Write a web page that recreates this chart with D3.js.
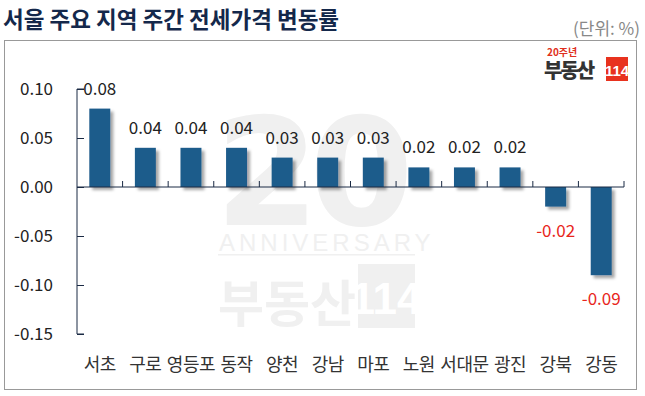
<!DOCTYPE html>
<html>
<head>
<meta charset="utf-8">
<script src="https://cdn.jsdelivr.net/npm/d3@7"></script>
<style>
  body { margin: 0; background: #fff; }
  svg { display: block; font-family: "Noto Sans CJK KR", "Noto Sans", sans-serif; }
</style>
</head>
<body>
<svg id="chart" width="645" height="396"></svg>
<script>
// 서울 주요 지역 주간 전세가격 변동률
var regions = ["서초", "구로", "영등포", "동작", "양천", "강남", "마포", "노원", "서대문", "광진", "강북", "강동"];
var changes = [0.08, 0.04, 0.04, 0.04, 0.03, 0.03, 0.03, 0.02, 0.02, 0.02, -0.02, -0.09];
var yTicks = [0.10, 0.05, 0.00, -0.05, -0.10, -0.15];

var svg = d3.select("#chart");

var margin = {left: 77, right: 21, top: 89, bottom: 62};
var W = 645, H = 396;

var x = d3.scaleBand()
    .domain(regions)
    .range([margin.left, W - margin.right])
    .paddingInner(0.54)
    .paddingOuter(0.27);

var y = d3.scaleLinear()
    .domain([-0.15, 0.10])
    .range([H - margin.bottom, margin.top]);

var defs = svg.append("defs");
var f = defs.append("filter").attr("id", "shadow").attr("x", "-30%").attr("y", "-30%").attr("width", "160%").attr("height", "160%");
f.append("feDropShadow").attr("dx", 3).attr("dy", 3).attr("stdDeviation", 1.5)
  .attr("flood-color", "#000").attr("flood-opacity", 0.35);

// title
svg.append("text")
    .attr("x", 3).attr("y", 28)
    .attr("font-size", 22.5).attr("font-weight", "bold")
    .attr("fill", "#14284b")
    .text("서울 주요 지역 주간 전세가격 변동률");

svg.append("text")
    .attr("x", 640).attr("y", 35)
    .attr("text-anchor", "end")
    .attr("font-size", 17).attr("fill", "#888")
    .text("(단위: %)");

// frame
svg.append("rect")
    .attr("x", 4.5).attr("y", 40.5)
    .attr("width", 632).attr("height", 349)
    .attr("fill", "none").attr("stroke", "#999").attr("stroke-width", 1);

// watermark
var wm = svg.append("g").attr("fill", "#f0f0f0");
wm.append("text").attr("x", 215).attr("y", 225).attr("font-size", 150)
  .attr("font-weight", "bold").attr("font-family", "DejaVu Sans").attr("letter-spacing", -10).text("20");
wm.append("text").attr("x", 219).attr("y", 251).attr("font-size", 24)
  .attr("letter-spacing", 4).attr("font-family", "Liberation Sans").text("ANNIVERSARY");
wm.append("rect").attr("x", 218).attr("y", 254).attr("width", 197).attr("height", 1.5);
wm.append("text").attr("x", 218).attr("y", 322).attr("font-size", 50).attr("font-weight", "bold").text("부동산");
wm.append("rect").attr("x", 358).attr("y", 264).attr("width", 57).attr("height", 64);
svg.append("text").attr("x", 386).attr("y", 314).attr("text-anchor", "middle").attr("font-size", 44)
  .attr("font-weight", "bold").attr("fill", "#fff").attr("font-family", "Liberation Sans Narrow, Liberation Sans").text("114");

// logo
var logo = svg.append("g");
logo.append("text").attr("x", 547).attr("y", 56).attr("font-size", 10).attr("font-weight", "bold")
  .attr("fill", "#e03020").text("20주년");
logo.append("text").attr("x", 544).attr("y", 78).attr("font-size", 20).attr("font-weight", "900")
  .attr("fill", "#333").attr("letter-spacing", -2).text("부동산");
logo.append("rect").attr("x", 606).attr("y", 57).attr("width", 22).attr("height", 24).attr("fill", "#e8321e");
logo.append("text").attr("x", 617).attr("y", 76).attr("text-anchor", "middle").attr("font-size", 15)
  .attr("font-weight", "bold").attr("fill", "#fff").attr("font-family", "Liberation Sans Narrow, Liberation Sans").text("114");

// bars
svg.append("g").selectAll("rect")
  .data(changes)
  .enter().append("rect")
    .attr("x", function(d, i) { return x(regions[i]); })
    .attr("y", function(d) { return y(Math.max(0, d)); })
    .attr("width", x.bandwidth())
    .attr("height", function(d) { return Math.abs(y(d) - y(0)); })
    .attr("fill", "#1f5b8b")
    .attr("filter", "url(#shadow)");

// y axis
var yAxis = d3.axisRight(y).tickValues(yTicks).tickSize(7).tickFormat("");
var ya = svg.append("g").attr("transform", "translate(" + margin.left + ",0)").call(yAxis);
ya.select(".domain").attr("stroke", "#1a2a44").attr("d", "M7," + y(0.10) + "H0V" + y(-0.15) + "H7");
ya.selectAll("line").attr("stroke", "#1a2a44");

svg.append("g").selectAll("text")
  .data(yTicks)
  .enter().append("text")
    .attr("x", 53).attr("y", function(d) { return y(d) + 6; })
    .attr("text-anchor", "end")
    .attr("font-size", 17).attr("fill", "#222")
    .text(function(d) { return d3.format(".2f")(d).replace("−", "-"); });

// x axis
var xa = svg.append("g").attr("transform", "translate(0," + y(0) + ")");
xa.append("line").attr("x1", margin.left).attr("x2", W - margin.right)
  .attr("stroke", "#1a2a44");
var step = x.step();
var tickXs = regions.map(function(r) { return x(r) + x.bandwidth() + (step - x.bandwidth()) / 2; });
xa.selectAll(".tk").data(tickXs).enter().append("line").attr("class", "tk")
  .attr("x1", function(d) { return d; }).attr("x2", function(d) { return d; })
  .attr("y1", 0).attr("y2", -6).attr("stroke", "#1a2a44");

// value labels
svg.append("g").selectAll("text")
  .data(changes)
  .enter().append("text")
    .attr("x", function(d, i) { return x(regions[i]) + x.bandwidth() / 2; })
    .attr("y", function(d) { return d >= 0 ? y(d) - 14 : y(d) + 30; })
    .attr("text-anchor", "middle")
    .attr("font-size", 17)
    .attr("fill", function(d) { return d < 0 ? "#e8261c" : "#222"; })
    .text(function(d) { return d.toFixed(2); });

// category labels
svg.append("g").selectAll("text")
  .data(regions)
  .enter().append("text")
    .attr("x", function(d) { return x(d) + x.bandwidth() / 2; })
    .attr("y", 371)
    .attr("text-anchor", "middle")
    .attr("font-size", 18).attr("letter-spacing", -0.5).attr("fill", "#333")
    .text(function(d) { return d; });
</script>
</body>
</html>
